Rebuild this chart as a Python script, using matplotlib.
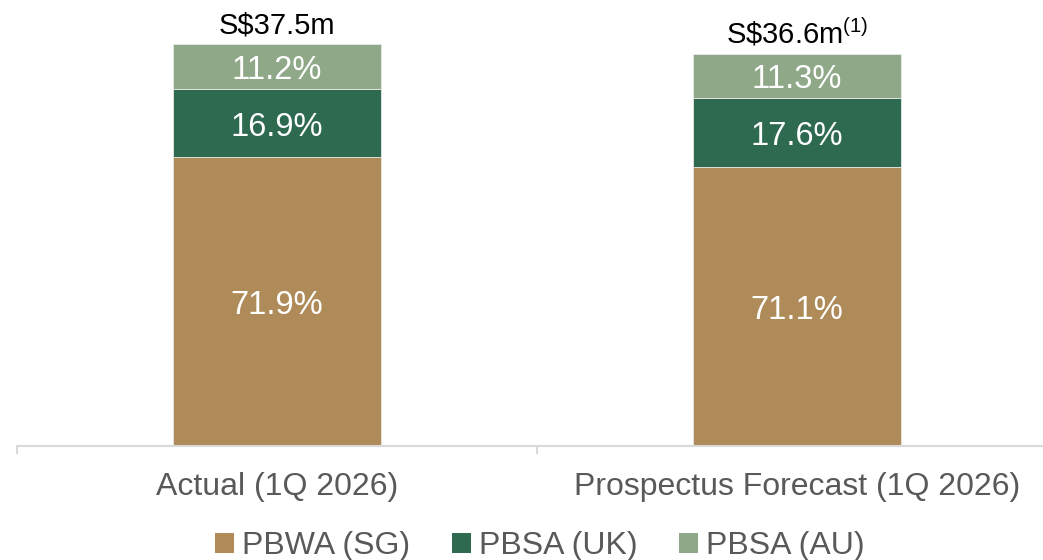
import numpy as np
import matplotlib
matplotlib.use("Agg")
import matplotlib.pyplot as plt
from matplotlib.patches import Patch

#### data
categories = ["Actual (1Q 2026)", "Prospectus Forecast (1Q 2026)"]
totals = [37.5, 36.6]
total_labels = ["S\\$37.5m", "S\\$36.6m$^{\\mathrm{(1)}}$"]
segments = ["PBWA (SG)", "PBSA (UK)", "PBSA (AU)"]
pct_sg = [71.9, 71.1]
pct_uk = [16.9, 17.6]
pct_au = [11.2, 11.3]
colors = ["#AE8B59", "#2D6A4F", "#8FA888"]

plt.rcParams['font.family'] = ['Liberation Sans', 'DejaVu Sans']
plt.rcParams['mathtext.fontset'] = 'custom'
plt.rcParams['mathtext.rm'] = 'Liberation Sans'
plt.rcParams['mathtext.it'] = 'Liberation Sans:italic'

fig = plt.figure(figsize=(10.43, 5.6), dpi=100)
ax = fig.add_axes([17/1043, 114/560, 1040/1043, 428.8/560])

x = np.arange(len(categories))
totals = np.array(totals)
pcts = [np.array(pct_sg), np.array(pct_uk), np.array(pct_au)]

bottom = np.zeros(len(categories))
for pct, col in zip(pcts, colors):
    vals = totals * pct / 100.0
    ax.bar(x, vals, 0.4, bottom=bottom, color=col, edgecolor='#E8E8E8', linewidth=0.6)
    for i in range(len(x)):
        ax.annotate("%.1f%%" % pct[i], (x[i], bottom[i] + vals[i] / 2), xytext=(0, -3),
                    textcoords='offset points', ha='center', va='center',
                    color='white', fontsize=23.5)
    bottom = bottom + vals

for i in range(len(x)):
    ax.annotate(total_labels[i], (x[i], totals[i]), xytext=(0, 3),
                textcoords='offset points', ha='center', va='bottom',
                fontsize=21, color='black', annotation_clip=False)

ax.set_xlim(-0.5, 1.5)
ax.set_ylim(0, 40)
ax.set_yticks([])
ax.set_xticks(x)
ax.set_xticklabels(categories, fontsize=23, color='#595959')
ax.set_xticks([-0.5, 0.5, 1.5], minor=True)
ax.tick_params(axis='x', which='major', length=0, pad=19)
ax.tick_params(axis='x', which='minor', length=6, width=1.5, color='#D9D9D9')
for s in ['top', 'right', 'left']:
    ax.spines[s].set_visible(False)
ax.spines['bottom'].set_color('#D9D9D9')
ax.spines['bottom'].set_linewidth(1.5)

handles = [Patch(facecolor=c, edgecolor='none') for c in colors]
leg = fig.legend(handles, segments, loc='center', bbox_to_anchor=(540/1043, 1 - 546/560),
                 ncol=3, frameon=False, fontsize=23, handlelength=0.6, handleheight=0.6,
                 handletextpad=0.25, columnspacing=1.3)
for t in leg.get_texts():
    t.set_color('#595959')

fig.savefig("out.png", dpi=100)
